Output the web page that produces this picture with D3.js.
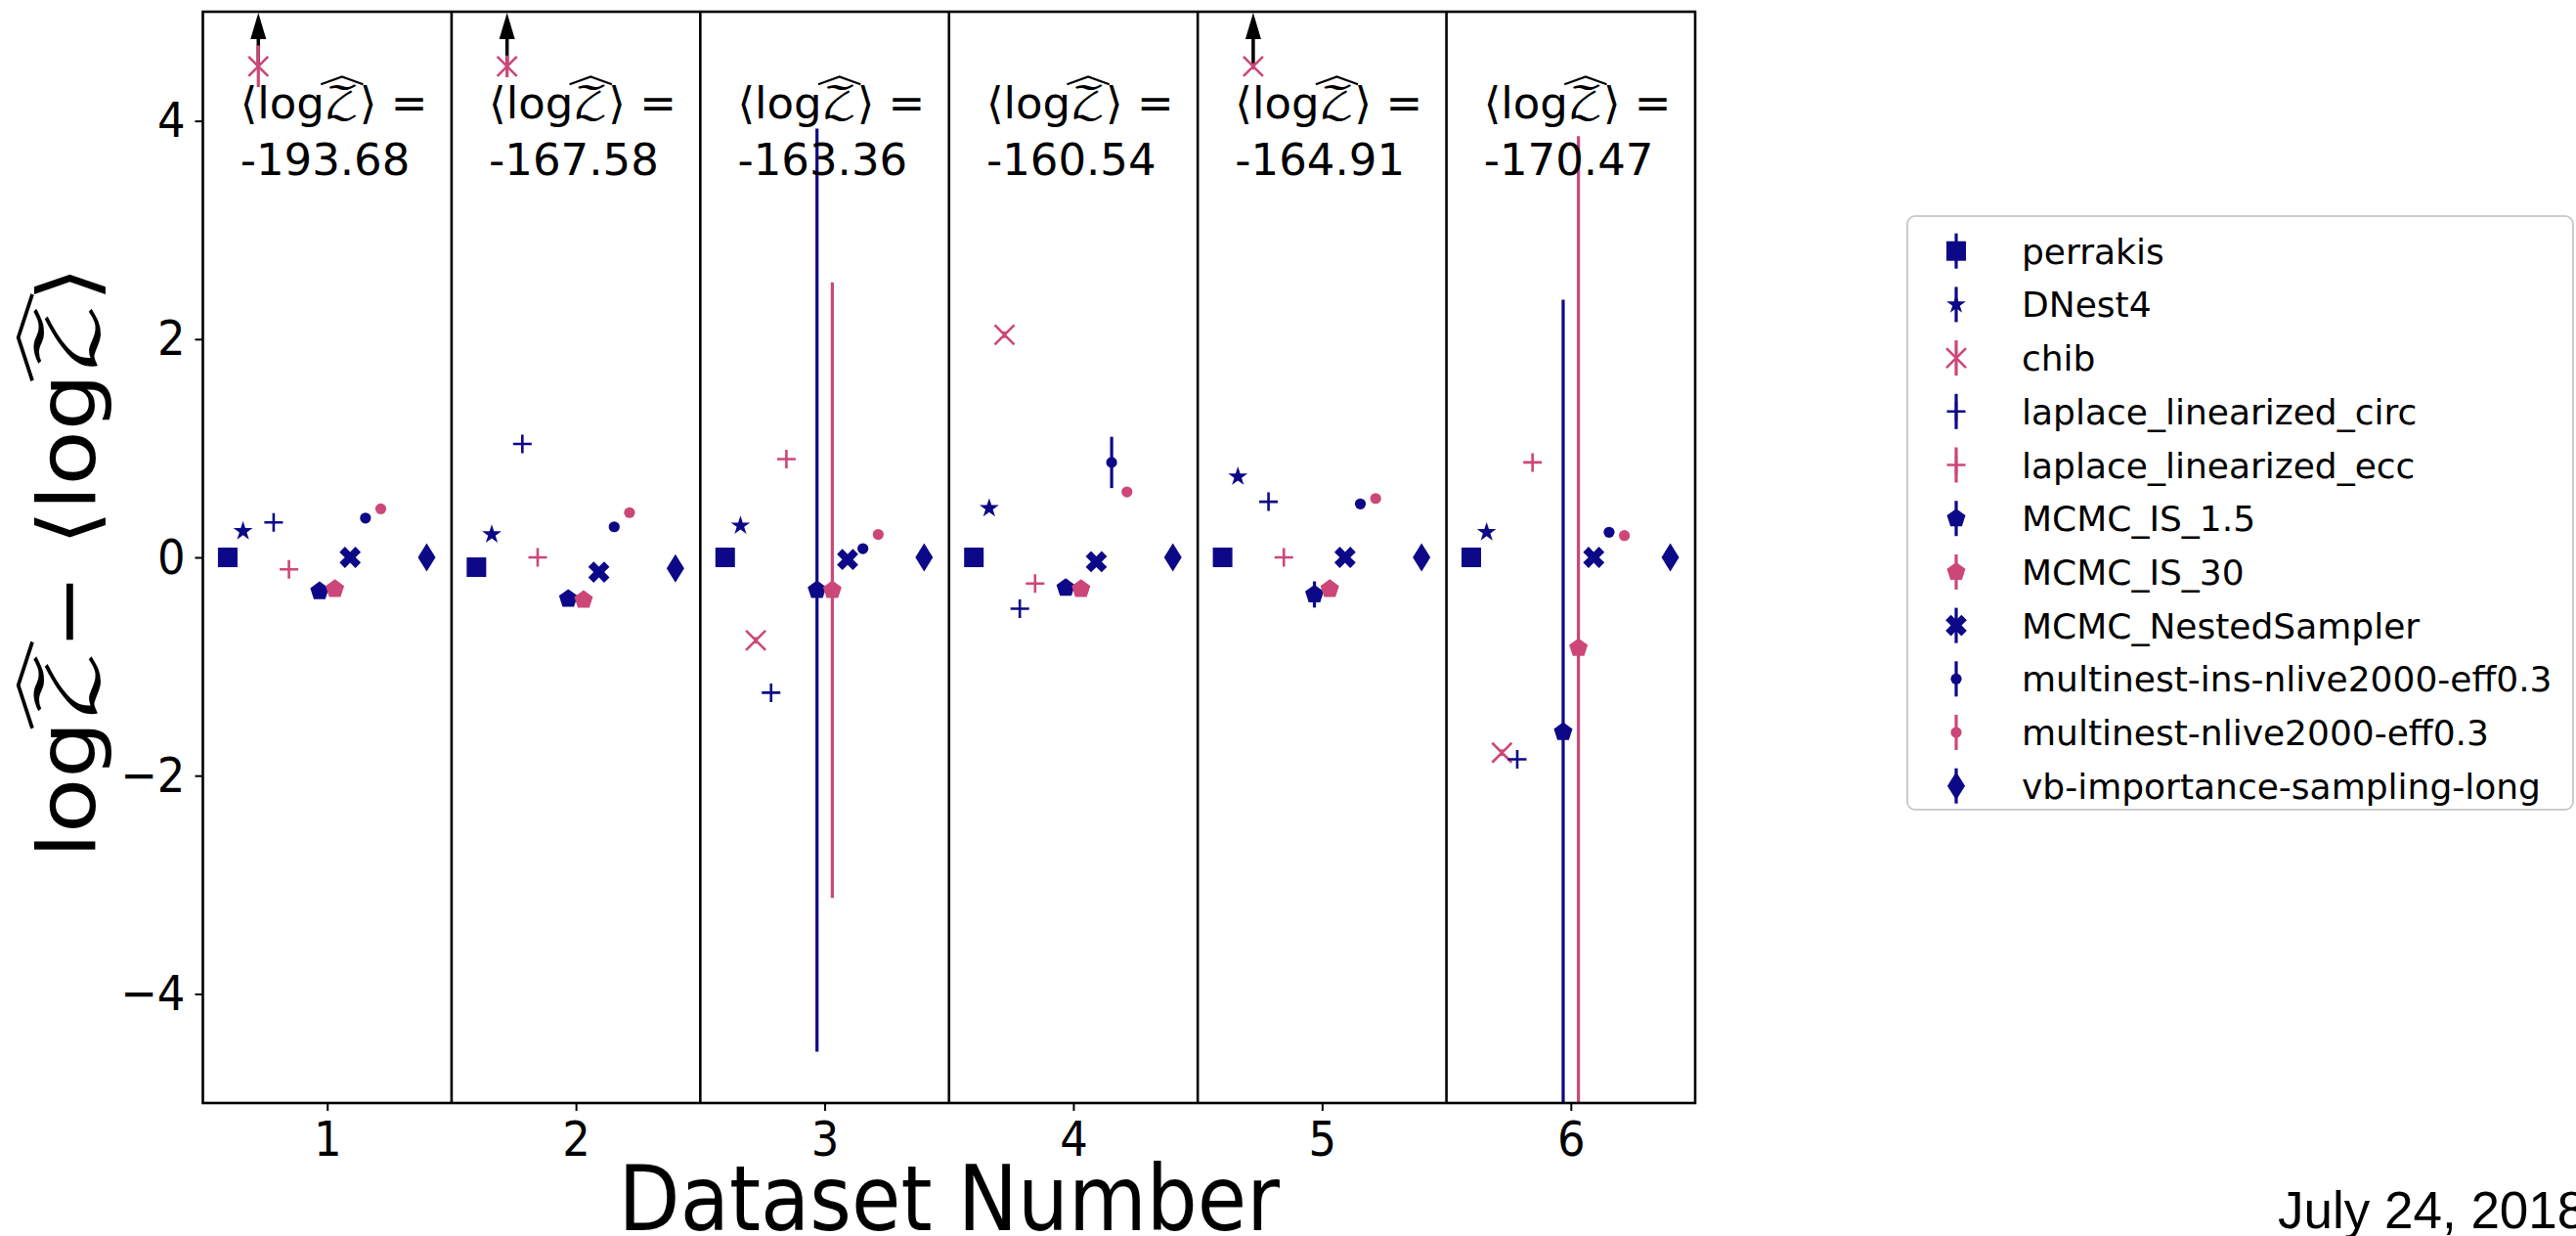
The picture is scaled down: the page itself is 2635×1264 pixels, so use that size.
<!DOCTYPE html>
<html><head><meta charset="utf-8">
<script src="https://cdn.jsdelivr.net/npm/d3@7"></script>
<style>body{margin:0;background:#fff} svg{display:block}</style>
</head><body>
<svg id="chart" width="2635" height="1264"></svg>
<script>
// ---------------- data ----------------
const datasets = [1, 2, 3, 4, 5, 6];
const meanLogZ = ["-193.68", "-167.58", "-163.36", "-160.54", "-164.91", "-170.47"];
const methods = ["perrakis", "DNest4", "chib", "laplace_linearized_circ", "laplace_linearized_ecc",
  "MCMC_IS_1.5", "MCMC_IS_30", "MCMC_NestedSampler", "multinest-ins-nlive2000-eff0.3",
  "multinest-nlive2000-eff0.3", "vb-importance-sampling-long"];
// slot index of each method among the 14 method slots of a dataset group
const methodSlot = [0, 1, 2, 3, 4, 6, 7, 8, 9, 10, 13];

const perrakis      = [0.00, -0.09, 0.00, 0.00, 0.00, 0.00];
const perrakisErr   = [0.02, 0.02, 0.02, 0.02, 0.02, 0.02];
const dnest4        = [0.24, 0.21, 0.29, 0.45, 0.74, 0.23];
const dnest4Err     = [0.03, 0.03, 0.03, 0.03, 0.03, 0.03];
const chib          = [4.5, 4.5, -0.76, 2.04, 4.5, -1.79];
const chibErr       = [0.19, 0.10, 0.03, 0.03, 0.03, 0.03];
const chibOffscale  = [true, true, false, false, true, false];
const laplaceCirc   = [0.32, 1.04, -1.24, -0.47, 0.51, -1.85];
const laplaceCircErr= [0.0, 0.0, 0.0, 0.0, 0.0, 0.0];
const laplaceEcc    = [-0.11, 0.00, 0.90, -0.24, 0.00, 0.87];
const laplaceEccErr = [0.0, 0.0, 0.0, 0.0, 0.0, 0.0];
const mcmcIS15      = [-0.31, -0.38, -0.30, -0.28, -0.34, -1.60];
const mcmcIS15Err   = [0.03, 0.03, 4.23, 0.03, 0.12, 3.96];
const mcmcIS30      = [-0.29, -0.39, -0.30, -0.29, -0.29, -0.83];
const mcmcIS30Err   = [0.03, 0.03, 2.82, 0.03, 0.03, 4.69];
const mcmcNested    = [0.00, -0.135, -0.02, -0.04, 0.00, 0.00];
const mcmcNestedErr = [0.03, 0.03, 0.03, 0.03, 0.03, 0.03];
const multinestIns  = [0.36, 0.28, 0.08, 0.87, 0.49, 0.23];
const multinestInsErr=[0.03, 0.03, 0.03, 0.235, 0.03, 0.03];
const multinest     = [0.445, 0.41, 0.21, 0.60, 0.54, 0.20];
const multinestErr  = [0.02, 0.02, 0.02, 0.02, 0.02, 0.02];
const vbIS          = [0.00, -0.10, 0.00, 0.00, 0.00, 0.00];
const vbISErr       = [0.02, 0.02, 0.02, 0.02, 0.02, 0.02];

const methodValues = [perrakis, dnest4, chib, laplaceCirc, laplaceEcc, mcmcIS15, mcmcIS30, mcmcNested, multinestIns, multinest, vbIS];
const methodErrors = [perrakisErr, dnest4Err, chibErr, laplaceCircErr, laplaceEccErr, mcmcIS15Err, mcmcIS30Err, mcmcNestedErr, multinestInsErr, multinestErr, vbISErr];
const yTicks = [-4, -2, 0, 2, 4];
const xTicks = [1, 2, 3, 4, 5, 6];
const yDomain = [-5, 5];
const xDomain = [0.5, 6.5];

// ---------------- styles ----------------
const BLUE = "#0d0887", PINK = "#cc4778";
const methodColors = [BLUE, BLUE, PINK, BLUE, PINK, BLUE, PINK, BLUE, BLUE, PINK, BLUE];
const methodSymbols = ["square", "star", "x", "plus", "plus", "pentagon", "pentagon", "Xfill", "dot", "dot", "thindiamond"];
const FONT = "DejaVu Sans";
const ZFONT = "'DejaVu Math TeX Gyre', 'DejaVu Sans', 'Noto Sans', serif";
const STRETCH = 1.12;   // the figure is slightly stretched vertically

// ---------------- layout ----------------
const svg = d3.select("#chart");
const plot = {left: 207.5, right: 1734, top: 12, bottom: 1128};
const xS = d3.scaleLinear().domain(xDomain).range([plot.left, plot.right]);
const yS = d3.scaleLinear().domain(yDomain).range([plot.bottom, plot.top]);
const slotS = d3.scalePoint().domain(d3.range(14)).range([-0.4, 0.4]);

svg.append("defs").append("clipPath").attr("id", "plotclip")
  .append("rect").attr("x", plot.left).attr("y", plot.top)
  .attr("width", plot.right - plot.left).attr("height", plot.bottom - plot.top);

function symbolPath(type) {
  const pts = (arr) => "M" + arr.map(p => p[0].toFixed(2) + "," + p[1].toFixed(2)).join("L") + "Z";
  switch (type) {
    case "square": return "M-10,-10H10V10H-10Z";
    case "star": {
      const R = 10.4, r = R * 0.382, a = [];
      for (let k = 0; k < 10; k++) {
        const ang = -Math.PI / 2 + k * Math.PI / 5, rr = k % 2 ? r : R;
        a.push([rr * Math.cos(ang), rr * Math.sin(ang)]);
      }
      return pts(a);
    }
    case "pentagon": {
      const R = 10, a = [];
      for (let k = 0; k < 5; k++) {
        const ang = -Math.PI / 2 + k * 2 * Math.PI / 5;
        a.push([R * Math.cos(ang), R * Math.sin(ang)]);
      }
      return pts(a);
    }
    case "Xfill": {
      const L = 11.5, w = 3.9;
      const base = [[w,-L],[w,-w],[L,-w],[L,w],[w,w],[w,L],[-w,L],[-w,w],[-L,w],[-L,-w],[-w,-w],[-w,-L]];
      const c = Math.SQRT1_2;
      return pts(base.map(p => [c * (p[0] - p[1]), c * (p[0] + p[1])]));
    }
    case "thindiamond": return "M0,-14.5L9,0L0,14.5L-9,0Z";
    case "plus": return "M-9.5,0H9.5M0,-9.5V9.5";
    case "x": return "M-10,-10L10,10M-10,10L10,-10";
    case "dot": return "M5.6,0A5.6,5.6 0 1,1 -5.6,0A5.6,5.6 0 1,1 5.6,0Z";
  }
}
function drawSymbol(g, type, color, cx, cy) {
  const stroked = type === "plus" || type === "x";
  g.append("path").attr("d", symbolPath(type))
    .attr("transform", `translate(${cx},${cy})`)
    .attr("fill", stroked ? "none" : color)
    .attr("stroke", stroked ? color : "none")
    .attr("stroke-width", stroked ? 2.6 : 0);
}

// math-like text with wide hats
function mathText(parent, pieces, fs, anchor) {
  const outer = parent.append("g");
  const g = outer.append("g");
  let xpos = 0;
  pieces.forEach(p => {
    const t = g.append("text").attr("x", xpos).attr("y", 0)
      .attr("font-family", p.hat ? ZFONT : FONT)
      .attr("font-size", fs).attr("fill", "#000")
      .text(p.t);
    const w = t.node().getComputedTextLength();
    if (p.hat) {
      const h0 = xpos - w * 0.1, h1 = xpos + w * 1.1;
      g.append("path")
        .attr("d", `M${h0},${-fs * 0.78}L${(h0 + h1) / 2},${-fs * 0.955}L${h1},${-fs * 0.78}`)
        .attr("fill", "none").attr("stroke", "#000").attr("stroke-width", fs * 0.045)
        .attr("stroke-linejoin", "miter");
    }
    xpos += w;
  });
  if (anchor === "middle") g.attr("transform", `translate(${-xpos / 2},0)`);
  return outer;
}

// ---------------- plot contents ----------------
const content = svg.append("g").attr("clip-path", "url(#plotclip)");

// offscale arrows (chib above range)
const arrows = content.append("g");
datasets.forEach((d, i) => {
  if (!chibOffscale[i]) return;
  const cx = xS(d + slotS(methodSlot[2]));
  const yTop = yS(yDomain[1]);
  arrows.append("line").attr("x1", cx).attr("x2", cx)
    .attr("y1", yS(chib[i])).attr("y2", yTop + 24)
    .attr("stroke", "#000").attr("stroke-width", 3.5);
  arrows.append("path")
    .attr("d", `M${cx},${yTop + 1}L${cx - 8},${yTop + 28}L${cx + 8},${yTop + 28}Z`)
    .attr("fill", "#000");
});

methods.forEach((m, mi) => {
  const g = content.append("g").attr("class", "series");
  const vals = methodValues[mi], errs = methodErrors[mi];
  datasets.forEach((d, i) => {
    const cx = xS(d + slotS(methodSlot[mi]));
    if (errs[i] > 0) {
      g.append("line").attr("x1", cx).attr("x2", cx)
        .attr("y1", yS(vals[i] - errs[i])).attr("y2", yS(vals[i] + errs[i]))
        .attr("stroke", methodColors[mi]).attr("stroke-width", 3.2);
    }
    drawSymbol(g, methodSymbols[mi], methodColors[mi], cx, yS(vals[i]));
  });
});

// panel separators and frame
const frame = svg.append("g");
d3.range(1.5, 6.5, 1).forEach(v => {
  frame.append("line").attr("x1", xS(v)).attr("x2", xS(v))
    .attr("y1", plot.top).attr("y2", plot.bottom)
    .attr("stroke", "#000").attr("stroke-width", 2.6);
});
frame.append("rect").attr("x", plot.left).attr("y", plot.top)
  .attr("width", plot.right - plot.left).attr("height", plot.bottom - plot.top)
  .attr("fill", "none").attr("stroke", "#000").attr("stroke-width", 2.6);

// panel annotations
datasets.forEach((d, i) => {
  const lx = xS(d - 0.35);
  const l1 = mathText(svg, [{t: "⟨log"}, {t: "𝒵", hat: true}, {t: "⟩ ="}], 45, "start");
  l1.attr("transform", `translate(${lx},${yS(3.5) - 58})`);
  svg.append("text").attr("x", lx).attr("y", yS(3.5))
    .attr("font-family", FONT).attr("font-size", 45).attr("fill", "#000")
    .text(meanLogZ[i]);
});

// ---------------- axes ----------------
const fmt = v => v < 0 ? "\u2212" + Math.abs(v) : String(v);
const yAxis = svg.append("g").attr("transform", `translate(${plot.left},0)`)
  .call(d3.axisLeft(yS).tickValues(yTicks).tickSize(8).tickPadding(10).tickFormat(fmt));
const xAxis = svg.append("g").attr("transform", `translate(0,${plot.bottom})`)
  .call(d3.axisBottom(xS).tickValues(xTicks).tickSize(8).tickPadding(10).tickFormat(d3.format("d")));
[yAxis, xAxis].forEach(a => {
  a.select(".domain").remove();
  a.selectAll(".tick line").attr("stroke", "#000").attr("stroke-width", 2);
  a.selectAll(".tick text").attr("font-family", FONT).attr("font-size", 45).attr("fill", "#000");
});
// vertical stretch of tick labels around their anchor
yAxis.selectAll(".tick text").attr("transform", `scale(1,${STRETCH})`);
xAxis.selectAll(".tick text").attr("transform", `translate(0,18) scale(1,${STRETCH}) translate(0,-18)`);

svg.append("text").attr("x", 0).attr("y", 0)
  .attr("transform", `translate(${(plot.left + plot.right) / 2},1258) scale(1,${STRETCH})`)
  .attr("text-anchor", "middle").attr("font-family", FONT).attr("font-size", 82)
  .attr("fill", "#000").text("Dataset Number");

const ylab = mathText(svg, [{t: "log"}, {t: "𝒵", hat: true}, {t: " \u2212 ⟨log"}, {t: "𝒵", hat: true}, {t: "⟩"}], 82, "middle");
ylab.attr("transform", `translate(97,${yS(0) + 5}) rotate(-90) scale(${STRETCH},1)`);

// ---------------- legend ----------------
const leg = svg.append("g");
const legBox = {x: 1951, y: 221, w: 681, h: 607};
leg.append("rect").attr("x", legBox.x).attr("y", legBox.y).attr("width", legBox.w).attr("height", legBox.h)
  .attr("rx", 8).attr("fill", "#fff").attr("stroke", "#cccccc").attr("stroke-width", 2);
methods.forEach((m, mi) => {
  const cy = 256.7 + mi * 54.7;
  leg.append("line").attr("x1", 2001).attr("x2", 2001).attr("y1", cy - 18).attr("y2", cy + 18)
    .attr("stroke", methodColors[mi]).attr("stroke-width", 3.2);
  drawSymbol(leg, methodSymbols[mi], methodColors[mi], 2001, cy);
  leg.append("text").attr("x", 2068).attr("y", cy + 13)
    .attr("font-family", FONT).attr("font-size", 36).attr("fill", "#000").text(m);
});

// date
svg.append("text").attr("x", 2330).attr("y", 1256)
  .attr("font-family", "Liberation Sans").attr("font-size", 53).attr("fill", "#000")
  .text("July 24, 2018");
</script>
</body></html>
